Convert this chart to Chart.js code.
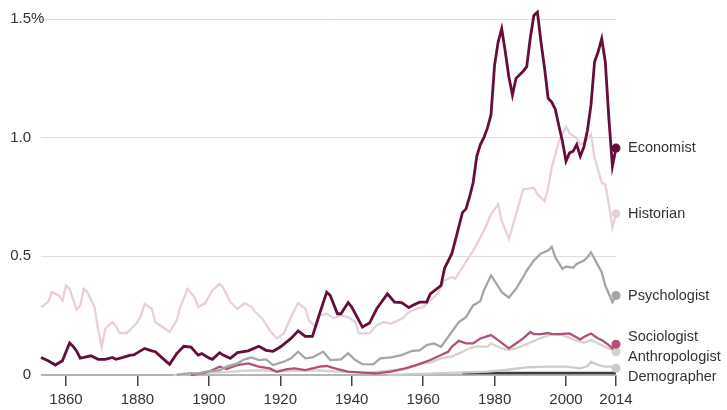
<!DOCTYPE html>
<html>
<head>
<meta charset="utf-8">
<script src="https://cdn.jsdelivr.net/npm/chart.js@4.4.1/dist/chart.umd.min.js"></script>
<style>
  body { margin: 0; background: #fff; }
  #wrap { width: 727px; height: 410px; }
</style>
</head>
<body>
<div id="wrap"><canvas id="myChart" width="727" height="410"></canvas></div>
<script>
// share of mentions, percent
let seriesNames = ['Economist', 'Historian', 'Psychologist', 'Sociologist', 'Anthropologist', 'Demographer'];

let econYears = [1853,1855,1857,1859,1861,1862,1863,1864,1865,1867,1869,1871,1873,1874,1876,1878,1879,1882,1884,1885,1887,1889,1891,1893,1895,1897,1898,1900,1901,1903,1904,1906,1908,1911,1914,1916,1918,1920,1923,1925,1927,1929,1931,1933,1934,1936,1937,1939,1940,1943,1945,1947,1948,1950,1952,1954,1956,1957,1959,1961,1962,1965,1966,1968,1969,1971,1972,1973,1974,1975,1976,1977,1978,1979,1980,1981,1982,1983,1984,1985,1986,1988,1989,1990,1991,1992,1993,1994,1995,1996,1997,1998,1999,2000,2001,2002,2003,2004,2005,2006,2007,2008,2009,2010,2011,2012,2013,2014];
let econVals = [0.074,0.06,0.042,0.06,0.135,0.12,0.10,0.071,0.074,0.081,0.066,0.066,0.074,0.066,0.074,0.084,0.085,0.112,0.102,0.098,0.071,0.045,0.09,0.121,0.118,0.084,0.09,0.072,0.066,0.094,0.084,0.07,0.094,0.102,0.121,0.104,0.1,0.118,0.154,0.186,0.163,0.163,0.258,0.349,0.335,0.258,0.258,0.305,0.286,0.202,0.219,0.279,0.3,0.342,0.307,0.305,0.284,0.293,0.307,0.307,0.342,0.377,0.45,0.51,0.566,0.684,0.7,0.75,0.81,0.92,0.97,1.0,1.04,1.096,1.306,1.403,1.459,1.362,1.257,1.18,1.25,1.28,1.299,1.42,1.515,1.529,1.403,1.292,1.166,1.15,1.12,1.05,0.985,0.901,0.936,0.943,0.971,0.922,0.96,1.03,1.138,1.32,1.362,1.417,1.32,1.082,0.88,0.956];

let histYears = [1853,1855,1856,1858,1859,1860,1861,1863,1864,1865,1866,1868,1869,1870,1871,1873,1874,1875,1877,1878,1880,1881,1882,1884,1885,1887,1889,1891,1892,1894,1896,1897,1899,1901,1903,1904,1906,1908,1910,1912,1913,1915,1917,1919,1921,1923,1925,1927,1928,1930,1931,1933,1935,1937,1939,1941,1942,1945,1947,1949,1951,1954,1956,1958,1960,1962,1964,1966,1968,1969,1971,1974,1977,1979,1981,1982,1984,1986,1988,1991,1992,1994,1995,1996,1998,2000,2001,2003,2004,2005,2007,2008,2010,2011,2012,2013,2014];
let histVals = [0.286,0.307,0.349,0.335,0.314,0.377,0.363,0.275,0.293,0.363,0.349,0.286,0.189,0.119,0.196,0.223,0.205,0.177,0.177,0.191,0.223,0.251,0.3,0.279,0.223,0.202,0.181,0.23,0.286,0.363,0.328,0.286,0.303,0.356,0.384,0.37,0.307,0.279,0.303,0.286,0.265,0.237,0.189,0.154,0.175,0.244,0.303,0.279,0.23,0.202,0.251,0.258,0.24,0.251,0.244,0.223,0.175,0.175,0.21,0.223,0.216,0.237,0.265,0.279,0.286,0.314,0.342,0.398,0.412,0.405,0.454,0.524,0.607,0.677,0.719,0.649,0.573,0.677,0.782,0.789,0.761,0.733,0.789,0.873,0.985,1.047,1.019,0.998,0.971,0.978,1.012,0.915,0.81,0.803,0.72,0.62,0.68];

let psychYears = [1891,1893,1895,1897,1899,1903,1905,1908,1910,1912,1914,1916,1918,1921,1923,1925,1927,1929,1932,1934,1937,1939,1941,1943,1946,1948,1951,1954,1957,1959,1961,1963,1965,1968,1970,1972,1974,1976,1977,1979,1980,1982,1984,1986,1988,1989,1991,1993,1995,1996,1997,1999,2000,2002,2003,2005,2006,2007,2008,2010,2011,2013,2014];
let psychVals = [0.0,0.005,0.008,0.006,0.014,0.02,0.035,0.049,0.066,0.074,0.063,0.066,0.042,0.056,0.07,0.098,0.07,0.074,0.098,0.063,0.066,0.091,0.063,0.046,0.045,0.07,0.074,0.084,0.102,0.104,0.126,0.133,0.119,0.181,0.223,0.244,0.293,0.311,0.356,0.419,0.398,0.349,0.326,0.363,0.412,0.44,0.482,0.512,0.524,0.54,0.496,0.447,0.457,0.452,0.468,0.482,0.496,0.517,0.489,0.433,0.377,0.307,0.335];

let socYears = [1895,1897,1899,1901,1903,1905,1908,1911,1914,1917,1919,1922,1924,1927,1931,1933,1936,1939,1943,1947,1951,1955,1958,1960,1962,1965,1967,1968,1970,1972,1974,1976,1979,1981,1984,1986,1988,1990,1991,1993,1995,1996,1998,2001,2004,2005,2007,2009,2010,2012,2013,2014];
let socVals = [0.0,0.005,0.01,0.021,0.035,0.025,0.042,0.049,0.035,0.028,0.014,0.025,0.028,0.021,0.035,0.038,0.025,0.014,0.01,0.007,0.014,0.028,0.042,0.052,0.063,0.084,0.098,0.119,0.144,0.133,0.133,0.154,0.168,0.147,0.112,0.133,0.154,0.181,0.172,0.172,0.177,0.172,0.172,0.175,0.15,0.16,0.175,0.154,0.147,0.126,0.112,0.13];

let anthYears = [1890,1895,1900,1905,1910,1915,1920,1925,1930,1935,1940,1945,1950,1955,1958,1960,1962,1965,1968,1970,1973,1975,1978,1979,1982,1984,1986,1989,1992,1994,1996,1999,2002,2005,2007,2010,2012,2014];
let anthVals = [0.0,0.005,0.01,0.012,0.018,0.02,0.015,0.018,0.02,0.015,0.012,0.01,0.018,0.025,0.04,0.049,0.052,0.07,0.077,0.091,0.112,0.121,0.119,0.133,0.112,0.105,0.112,0.13,0.15,0.161,0.172,0.168,0.15,0.136,0.147,0.126,0.112,0.098];

let demoYears = [1950,1960,1965,1970,1978,1983,1989,1995,2000,2004,2006,2007,2009,2011,2013,2014];
let demoVals = [0.0,0.005,0.008,0.01,0.014,0.021,0.032,0.035,0.035,0.028,0.038,0.056,0.042,0.035,0.035,0.028];

// dark strip along the baseline
let stripYears = [1971, 2014];
let stripVals = [0.008, 0.008];

let tickYears = [1860, 1880, 1900, 1920, 1940, 1960, 1980, 2000, 2014];
let yTicks = [0, 0.5, 1.0, 1.5];
let yTickLabels = ['0', '0.5', '1.0', '1.5'];

let colors = ['#670d3b', '#e9cfda', '#a6a6a4', '#b24f7d', '#d6d3c8', '#cbcbcb'];
let widths = [2.8, 2.3, 2.3, 2.3, 2.3, 2.3];
let labelY = [148, 214, 296, 337, 357, 377];

let font = '"Liberation Sans", Arial, sans-serif';

function toPoints(xs, ys){
	return xs.map(function(x, i){ return {x: x, y: ys[i]}; });
}

function lineSet(i, xs, ys){
	let last = xs.length - 1;
	return {
		label: seriesNames[i],
		data: toPoints(xs, ys),
		borderColor: colors[i],
		backgroundColor: colors[i],
		borderWidth: widths[i],
		tension: 0,
		clip: false,
		pointRadius: function(ctx){ return ctx.dataIndex === last ? 4.5 : 0; },
		pointBorderWidth: 0,
		pointHoverRadius: 0
	};
}

let datasets = [
	lineSet(0, econYears, econVals),
	lineSet(2, psychYears, psychVals),
	lineSet(3, socYears, socVals),
	lineSet(4, anthYears, anthVals),
	lineSet(5, demoYears, demoVals),
	{
		label: 'strip',
		data: toPoints(stripYears, stripVals),
		borderColor: '#3d3d3d',
		borderWidth: 2.5,
		pointRadius: 0,
		clip: false
	},
	lineSet(1, histYears, histVals)
];

/* end labels + percent sign */
let endLabels = {
	id: 'endLabels',
	afterDatasetsDraw: function(chart){
		let c = chart.ctx;
		let area = chart.chartArea;
		c.save();
		c.font = '14.5px ' + font;
		c.fillStyle = '#333';
		c.textBaseline = 'middle';
		c.textAlign = 'left';
		seriesNames.forEach(function(n, i){
			c.fillText(n, area.right + 12, labelY[i]);
		});
		c.font = '15px ' + font;
		c.fillText('%', area.left - 10, chart.scales.y.getPixelForValue(1.5));
		c.restore();
	}
};

let config = {
	type: 'line',
	data: { datasets: datasets },
	options: {
		responsive: false,
		animation: false,
		events: [],
		layout: { padding: { left: 10, right: 111, top: 17, bottom: 0 } },
		plugins: { legend: { display: false }, tooltip: { enabled: false } },
		scales: {
			x: {
				type: 'linear',
				min: 1853,
				max: 2014,
				afterFit: function(s){ s.height = 35; },
				afterBuildTicks: function(s){ s.ticks = tickYears.map(function(v){ return {value: v}; }); },
				grid: { drawOnChartArea: false, drawTicks: true, tickLength: 11, color: '#444', lineWidth: 1.5 },
				border: { display: false },
				ticks: {
					autoSkip: false, maxRotation: 0, padding: 5,
					color: '#333', font: { family: font, size: 15 },
					callback: function(v){ return String(v); }
				}
			},
			y: {
				min: 0,
				max: 1.5,
				afterFit: function(s){ s.width = 31; },
				afterBuildTicks: function(s){ s.ticks = yTicks.map(function(v){ return {value: v}; }); },
				grid: {
					drawTicks: false,
					color: function(ctx){ return ctx.tick && ctx.tick.value === 0 ? '#b5b5b5' : '#dedede'; },
					lineWidth: function(ctx){ return ctx.tick && ctx.tick.value === 0 ? 2 : 1; }
				},
				border: { display: false },
				ticks: {
					padding: 10,
					color: '#333', font: { family: font, size: 15 },
					callback: function(v){ let k = yTicks.indexOf(v); return k >= 0 ? yTickLabels[k] : ''; }
				}
			}
		}
	},
	plugins: [endLabels]
};

let myChart = new Chart(document.getElementById('myChart'), config);
</script>
</body>
</html>
